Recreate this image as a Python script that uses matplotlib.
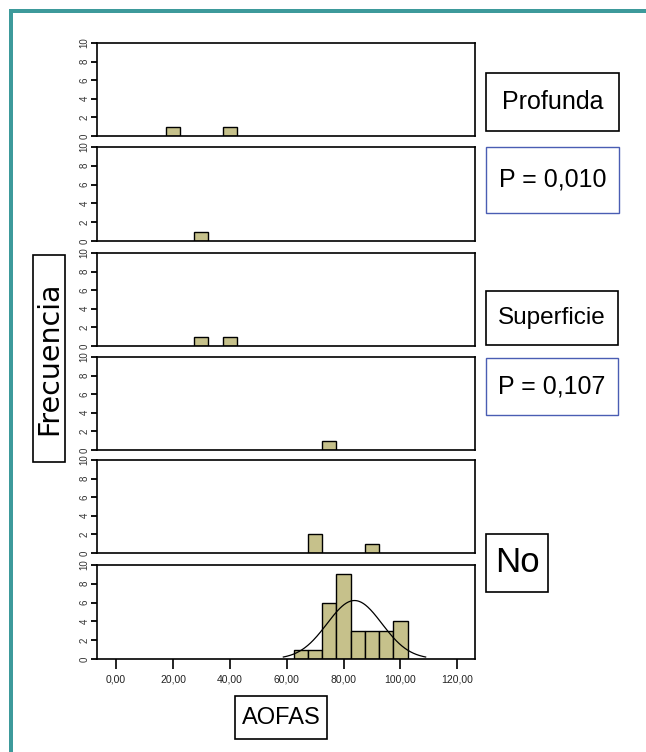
import numpy as np
import matplotlib
matplotlib.use("Agg")
import matplotlib.pyplot as plt
from matplotlib.patches import Rectangle

W, H = 646, 752

# histogram values (bin centres, bin width 5)
bin_width = 5
panel_centres = [
    [20, 40],
    [30],
    [30, 40],
    [75],
    [70, 90],
    [65, 70, 75, 80, 85, 90, 95, 100],
]
panel_counts = [
    [1, 1],
    [1],
    [1, 1],
    [1],
    [2, 1],
    [1, 1, 6, 9, 3, 3, 3, 4],
]
y_ticks = [0, 2, 4, 6, 8, 10]
x_ticks = [0, 20, 40, 60, 80, 100, 120]
x_labels = ["0,00", "20,00", "40,00", "60,00", "80,00", "100,00", "120,00"]

# panel extents in pixels (top, bottom)
panel_rows = [(43, 136), (147, 241), (253, 346), (357, 450), (460, 553), (565, 659)]
panel_x = (97, 475)

BAR_COLOR = "#c6c18b"
TEAL = "#3d9a9b"
BLUE = "#4a5db3"
NARROW = ["Liberation Sans", "DejaVu Sans"]


def fig_rect(x0, y0, x1, y1):
    return [x0 / W, 1 - y1 / H, (x1 - x0) / W, (y1 - y0) / H]


fig = plt.figure(figsize=(W / 100, H / 100), dpi=100)

for i, (top, bottom) in enumerate(panel_rows):
    ax = fig.add_axes(fig_rect(panel_x[0], top, panel_x[1], bottom))
    ax.bar(panel_centres[i], panel_counts[i], width=bin_width, color=BAR_COLOR,
           edgecolor="black", linewidth=1.0, zorder=2)
    ax.set_xlim(-6.7, 126.2)
    ax.set_ylim(0, 10)
    ax.set_yticks(y_ticks)
    ax.set_yticklabels([str(t) for t in y_ticks], rotation=90, va="center",
                       fontsize=7, color="#333333", family=NARROW)
    ax.tick_params(axis="y", length=4, width=1.3, pad=1.5)
    for s in ax.spines.values():
        s.set_linewidth(1.2)
    if i == len(panel_rows) - 1:
        ax.set_xticks(x_ticks)
        ax.set_xticklabels(x_labels, family=NARROW, fontsize=7.5, color="#222222")
        ax.tick_params(axis="x", length=7, width=1.2, pad=4)
        # normal curve fitted to the histogram values
        vals = np.repeat(panel_centres[i], panel_counts[i])
        mu, sd = vals.mean(), vals.std(ddof=1)
        xs = np.linspace(mu - 2.6 * sd, mu + 2.6 * sd, 200)
        ys = len(vals) * bin_width / (sd * np.sqrt(2 * np.pi)) * np.exp(-0.5 * ((xs - mu) / sd) ** 2)
        ax.plot(xs, ys, color="black", linewidth=0.9, zorder=3)
    else:
        ax.set_xticks([])


def label_box(x0, y0, x1, y1, text, size, edge="black", lw=1.2, family=NARROW, rotation=0):
    fig.add_artist(Rectangle((x0 / W, 1 - y1 / H), (x1 - x0) / W, (y1 - y0) / H,
                             transform=fig.transFigure, fill=False, edgecolor=edge, linewidth=lw))
    fig.text((x0 + x1) / 2 / W, 1 - (y0 + y1) / 2 / H, text, ha="center", va="center",
             fontsize=size, family=family, rotation=rotation, color="black")


label_box(486, 73, 619, 131, "Profunda", 18)
label_box(486, 147, 619, 213, "P = 0,010", 18, edge=BLUE, lw=1.0)
label_box(486, 291, 618, 345, "Superficie", 17.5)
label_box(486, 358, 618, 415, "P = 0,107", 18, edge=BLUE, lw=1.0)
label_box(486, 534, 548, 592, "No", 25)
label_box(235, 696, 327, 739, "AOFAS", 17)
label_box(33, 255, 65, 462, "Frecuencia", 20.5, family=["DejaVu Sans"], rotation=90)

# teal frame on the top and left
fig.add_artist(Rectangle((9 / W, 1 - 13 / H), 1, 4 / H, transform=fig.transFigure,
                         facecolor=TEAL, edgecolor="none"))
fig.add_artist(Rectangle((9 / W, 0), 4 / W, 1 - 9 / H, transform=fig.transFigure,
                         facecolor=TEAL, edgecolor="none"))

fig.savefig("out.png", dpi=100)
